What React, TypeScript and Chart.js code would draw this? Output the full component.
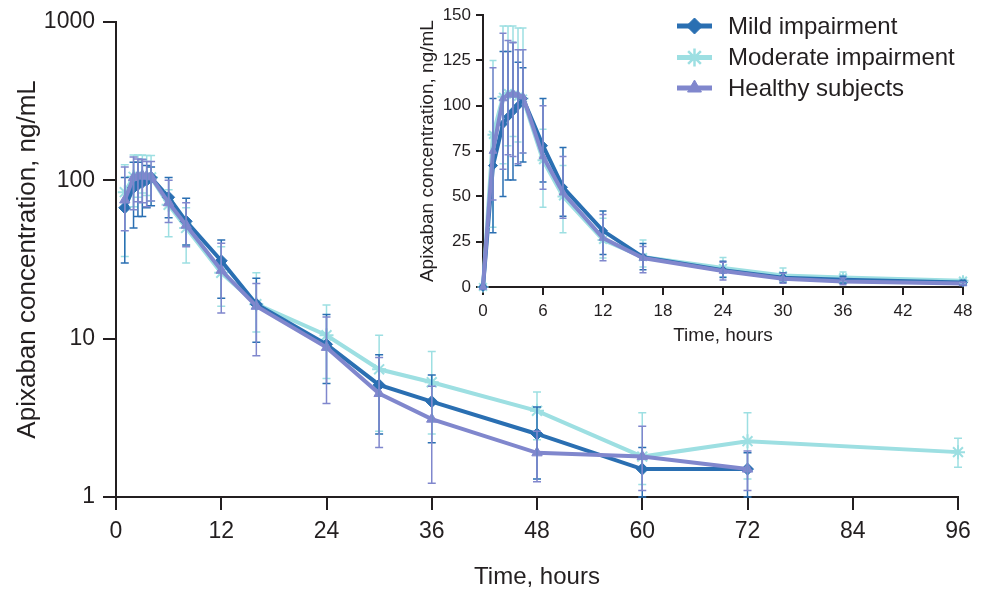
import React, { useEffect, useRef } from 'react';
import { Chart, registerables } from 'chart.js';
import { drawPoint } from 'chart.js/helpers';

Chart.register(...registerables);

// ---------- data ----------
const times = [0, 1, 2, 2.5, 3, 3.5, 4, 6, 8, 12, 16, 24, 30, 36, 48, 60, 72, 96];

const mildMean = [0, 67, 90, 94, 97, 100, 104, 78, 55, 31, 16.5, 9.2, 5.1, 4.0, 2.5, 1.5, 1.5, null];
const mildHi = [0, 104, 130, 130, 135, 124, 121, 104, 77, 42, 24, 14.2, 7.9, 5.9, 3.7, 2.05, 1.9, null];
const mildLo = [0, 30, 50, 59, 59, 67, 69, 58, 39, 18, 9.5, 5.2, 2.5, 2.2, 1.3, 1.0, 1.0, null];

const modMean = [0, 84, 105, 107, 106, 105, 104, 70, 50, 26, 16.5, 10.5, 6.4, 5.3, 3.5, 1.8, 2.25, 1.92];
const modHi = [0, 125, 144, 144, 144, 143, 143, 87, 67, 38, 26, 16.3, 10.5, 8.3, 4.6, 3.4, 3.4, 2.35];
const modLo = [0, 33, 68, 78, 83, 80, 74, 44, 30, 16, 11, 5.6, 2.6, 2.5, 2.3, 1.2, 1.3, 1.54];

const healthyMean = [0, 75, 104, 106, 107, 106, 105, 72, 52, 27, 16, 8.8, 4.5, 3.1, 1.9, 1.8, 1.5, null];
const healthyHi = [0, 121, 140, 136, 135, 131, 131, 100, 72, 40, 22.3, 13.7, 7.6, 5.0, 2.6, 2.8, 1.95, null];
const healthyLo = [0, 48, 65, 73, 72, 68, 74, 54, 38, 14.5, 7.8, 3.9, 2.05, 1.22, 1.25, 1.1, 1.1, null];

const seriesNames = ['Mild impairment', 'Moderate impairment', 'Healthy subjects'];

const mainXTicks = [0, 12, 24, 36, 48, 60, 72, 84, 96];
const mainYTicks = [1, 10, 100, 1000];
const insetXTicks = [0, 6, 12, 18, 24, 30, 36, 42, 48];
const insetYTicks = [0, 25, 50, 75, 100, 125, 150];

const yTitle = 'Apixaban concentration, ng/mL';
const xTitle = 'Time, hours';

// ---------- styles ----------
const COLORS = ['#2a6fb2', '#9ddfe2', '#8087cd'];
const STYLES = ['rectRot', 'star', 'triangle'];
const ORDERS = [1, 2, 0];
const AXIS = '#231f20';
const FONT = "'Liberation Sans', Arial, Helvetica, sans-serif";

type Pt = { x: number; y: number; hi: number; lo: number };

function buildSeries(keep: (t: number) => boolean, radius: number) {
  const src = [
    [mildMean, mildHi, mildLo],
    [modMean, modHi, modLo],
    [healthyMean, healthyHi, healthyLo],
  ];
  return src.map(([m, h, l], i) => {
    const data: Pt[] = [];
    times.forEach((t, j) => {
      const v = m[j];
      if (v == null || !keep(t)) return;
      data.push({ x: t, y: v as number, hi: h[j] as number, lo: l[j] as number });
    });
    return {
      label: seriesNames[i],
      data,
      borderColor: COLORS[i],
      backgroundColor: COLORS[i],
      pointBackgroundColor: COLORS[i],
      pointBorderColor: COLORS[i],
      pointStyle: STYLES[i],
      pointRadius: STYLES[i] === 'star' ? radius + 1 : radius,
      pointBorderWidth: STYLES[i] === 'star' ? 2 : 1,
      borderWidth: 4,
      tension: 0,
      clip: false as any,
      order: ORDERS[i],
    };
  });
}

const errorBarPlugin = {
  id: 'errorBars',
  afterDatasetsDraw(chart: any, _args: any, opts: any) {
    const ctx = chart.ctx;
    const xs = chart.scales.x;
    const ys = chart.scales.y;
    const cap = opts.cap ?? 4;
    ctx.save();
    const idx = chart.data.datasets.map((_: any, i: number) => i).sort((a: number, b: number) => chart.data.datasets[b].order - chart.data.datasets[a].order);
    idx.forEach((i: number) => {
      const ds = chart.data.datasets[i];
      ctx.strokeStyle = ds.borderColor;
      ctx.lineWidth = opts.width ?? 1.5;
      (ds.data as Pt[]).forEach((p) => {
        if (p.hi == null || p.lo == null || p.hi === p.lo) return;
        const x = xs.getPixelForValue(p.x);
        const y1 = ys.getPixelForValue(p.hi);
        const y2 = ys.getPixelForValue(p.lo);
        ctx.beginPath();
        ctx.moveTo(x, y1);
        ctx.lineTo(x, y2);
        ctx.moveTo(x - cap, y1);
        ctx.lineTo(x + cap, y1);
        ctx.moveTo(x - cap, y2);
        ctx.lineTo(x + cap, y2);
        ctx.stroke();
      });
    });
    ctx.restore();
  },
};

const legendPlugin = {
  id: 'lineLegend',
  afterDraw(chart: any, _args: any, opts: any) {
    const ctx = chart.ctx;
    const { x1, x2, ys, textX, size } = opts;
    ctx.save();
    chart.data.datasets.forEach((ds: any, i: number) => {
      const y = ys[i];
      ctx.strokeStyle = ds.borderColor;
      ctx.fillStyle = ds.borderColor;
      ctx.lineWidth = 5;
      ctx.beginPath();
      ctx.moveTo(x1, y);
      ctx.lineTo(x2, y);
      ctx.stroke();
      const st = STYLES[i];
      ctx.lineWidth = st === 'star' ? 2.5 : 1;
      drawPoint(ctx, { pointStyle: st, rotation: 0, radius: st === 'star' ? 9 : 8, borderWidth: ctx.lineWidth } as any, (x1 + x2) / 2, y);
      ctx.fillStyle = AXIS;
      ctx.font = `${size}px ${FONT}`;
      ctx.textBaseline = 'middle';
      ctx.textAlign = 'left';
      ctx.fillText(ds.label, textX, y + 1);
    });
    ctx.restore();
  },
};

function axisCommon(tickLength: number, fontSize: number, padding: number) {
  return {
    grid: { drawOnChartArea: false, drawTicks: true, tickLength, color: AXIS, lineWidth: 2 },
    border: { display: true, color: AXIS, width: 2 },
    ticks: { color: AXIS, font: { size: fontSize, family: FONT }, padding, autoSkip: false, maxRotation: 0 },
  };
}

export default function App() {
  const mainRef = useRef<HTMLCanvasElement>(null);
  const insetRef = useRef<HTMLCanvasElement>(null);

  useEffect(() => {
    document.body.style.margin = '0';
    const mainAxisX = axisCommon(13, 23, 8);
    const mainAxisY = axisCommon(13, 23, 8);
    const main = new Chart(mainRef.current as HTMLCanvasElement, {
      type: 'line',
      data: { datasets: buildSeries((t) => t > 0, 6) as any },
      plugins: [errorBarPlugin as any],
      options: {
        responsive: false,
        animation: false,
        layout: { padding: { left: 0, right: 30, top: 20, bottom: 0 } },
        plugins: {
          legend: { display: false },
          tooltip: { enabled: false },
          errorBars: { cap: 4, width: 1.5 },
        } as any,
        scales: {
          x: {
            type: 'linear',
            min: 0,
            max: 96,
            ...mainAxisX,
            ticks: { ...mainAxisX.ticks, callback: (v: any) => String(v) },
            afterBuildTicks: (s: any) => { s.ticks = mainXTicks.map((v) => ({ value: v })); },
            afterFit: (s: any) => { s.height = 95; },
            title: { display: true, text: xTitle, color: AXIS, font: { size: 24, family: FONT }, padding: { top: 0, bottom: 0 } },
          } as any,
          y: {
            type: 'logarithmic',
            min: 1,
            max: 1000,
            ...mainAxisY,
            ticks: { ...mainAxisY.ticks, callback: (v: any) => String(v) },
            afterBuildTicks: (s: any) => { s.ticks = mainYTicks.map((v) => ({ value: v })); },
            afterFit: (s: any) => { s.width = 116; },
            title: { display: true, text: yTitle, color: AXIS, font: { size: 26, family: FONT }, padding: { top: 12, bottom: 0 } },
          } as any,
        },
      },
    });

    const insAxisX = axisCommon(8, 17, 6);
    const insAxisY = axisCommon(7, 17, 5);
    const inset = new Chart(insetRef.current as HTMLCanvasElement, {
      type: 'line',
      data: { datasets: buildSeries((t) => t <= 48, 4.5) as any },
      plugins: [errorBarPlugin as any, legendPlugin as any],
      options: {
        responsive: false,
        animation: false,
        layout: { padding: { left: 0, right: 25, top: 15, bottom: 0 } },
        plugins: {
          legend: { display: false },
          tooltip: { enabled: false },
          errorBars: { cap: 3.5, width: 1.5 },
          lineLegend: { x1: 277, x2: 312, ys: [26, 57.5, 88], textX: 328, size: 24 },
        } as any,
        scales: {
          x: {
            type: 'linear',
            min: 0,
            max: 48,
            ...insAxisX,
            ticks: { ...insAxisX.ticks, callback: (v: any) => String(v) },
            afterBuildTicks: (s: any) => { s.ticks = insetXTicks.map((v) => ({ value: v })); },
            afterFit: (s: any) => { s.height = 63; },
            title: { display: true, text: xTitle, color: AXIS, font: { size: 19, family: FONT }, padding: { top: 0, bottom: 3 } },
          } as any,
          y: {
            type: 'linear',
            min: 0,
            max: 150,
            ...insAxisY,
            ticks: { ...insAxisY.ticks, callback: (v: any) => String(v) },
            afterBuildTicks: (s: any) => { s.ticks = insetYTicks.map((v) => ({ value: v })); },
            afterFit: (s: any) => { s.width = 83; },
            title: { display: true, text: yTitle, color: AXIS, font: { size: 19, family: FONT }, padding: { top: 16, bottom: 0 } },
          } as any,
        },
      },
    });

    return () => {
      main.destroy();
      inset.destroy();
    };
  }, []);

  return (
    <div style={{ position: 'relative', width: 988, height: 592, background: '#ffffff', overflow: 'hidden' }}>
      <canvas ref={mainRef} width={988} height={592} style={{ position: 'absolute', left: 0, top: 0, width: 988, height: 592 }} />
      <canvas ref={insetRef} width={588} height={350} style={{ position: 'absolute', left: 400, top: 0, width: 588, height: 350 }} />
    </div>
  );
}
